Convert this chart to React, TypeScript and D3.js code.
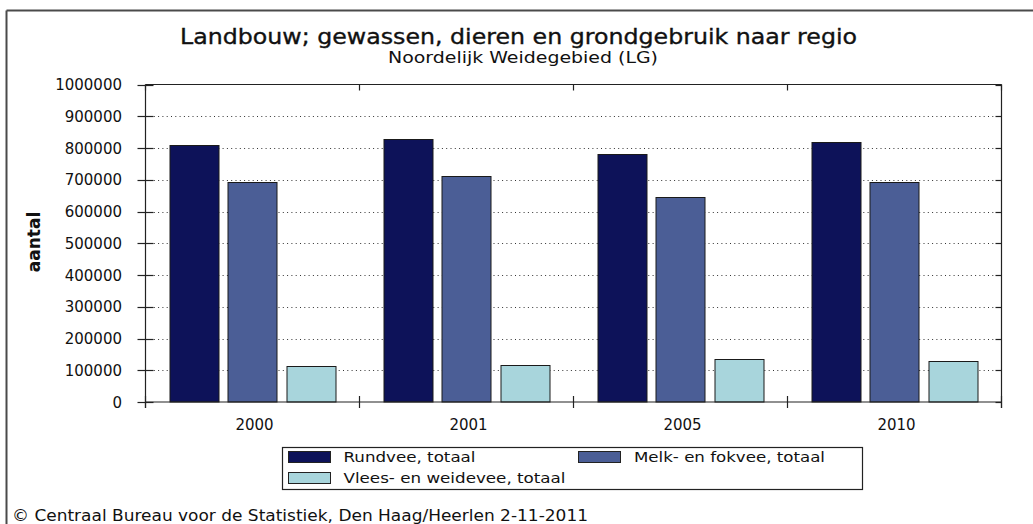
import React from "react";
import * as d3 from "d3";

const categories = ["2000", "2001", "2005", "2010"];
const seriesNames = ["Rundvee, totaal", "Melk- en fokvee, totaal", "Vlees- en weidevee, totaal"];
const rundvee = [810000, 827000, 782000, 818000];
const melkFokvee = [693000, 711000, 646000, 692000];
const vleesWeidevee = [114000, 118000, 137000, 129000];
const yTicks = [0, 100000, 200000, 300000, 400000, 500000, 600000, 700000, 800000, 900000, 1000000];
const colors = ["#0d1259", "#4b5e96", "#a8d5dc"];

const title = "Landbouw; gewassen, dieren en grondgebruik naar regio";
const subtitle = "Noordelijk Weidegebied (LG)";
const yTitle = "aantal";
const footer = "© Centraal Bureau voor de Statistiek, Den Haag/Heerlen 2-11-2011";

const W = 1033;
const H = 524;
const FONT = "'DejaVu Sans', Verdana, sans-serif";

export default function App() {
  const left = 145.5, right = 1001.5, top = 84.5, bottom = 402;
  const x0 = d3.scaleBand<string>().domain(categories).range([left, right]).paddingInner(0).paddingOuter(0);
  const bw = x0.bandwidth();
  const x1 = d3.scaleBand<string>().domain(seriesNames).range([24, bw - 24]).paddingInner(0.16).paddingOuter(0);
  const y = d3.scaleLinear().domain([0, 1000000]).range([bottom, top]);
  const seriesValues = [rundvee, melkFokvee, vleesWeidevee];

  const boundaries = categories.map((c) => x0(c) as number).concat([right]);

  const legendPos = [
    { sx: 288.5, sy: 451.5, tx: 343.5, tl: 132 },
    { sx: 578.5, sy: 451.5, tx: 634, tl: 191 },
    { sx: 288.5, sy: 472.5, tx: 343.5, tl: 222 },
  ];

  return (
    <svg width={W} height={H} style={{ position: "absolute", left: 0, top: 0, background: "#fff" }} fontFamily={FONT}>
      <rect x={0} y={0} width={W} height={H} fill="#fff" />
      {/* outer frame */}
      <line x1={6.5} y1={10.5} x2={W + 5} y2={10.5} stroke="#4a4a4a" strokeWidth={2} />
      <line x1={6.5} y1={10.5} x2={6.5} y2={H + 5} stroke="#4a4a4a" strokeWidth={2} />

      <text x={180} y={43.5} fontSize={21} fill="#111" stroke="#111" strokeWidth={0.35}
        textLength={677} lengthAdjust="spacingAndGlyphs">{title}</text>
      <text x={388} y={63} fontSize={15.5} fill="#111" textLength={270} lengthAdjust="spacingAndGlyphs">{subtitle}</text>

      {/* grid */}
      {yTicks.filter((t) => t > 0 && t < 1000000).map((t) => (
        <line key={"g" + t} x1={left + 4} x2={right - 2} y1={Math.round(y(t)) + 0.5} y2={Math.round(y(t)) + 0.5}
          stroke="#333" strokeWidth={1} strokeDasharray="1 3.3" />
      ))}

      {/* bars */}
      {categories.map((c, ci) => (
        <g key={c} transform={`translate(${x0(c)},0)`}>
          {seriesNames.map((s, si) => {
            const v = seriesValues[si][ci];
            return (
              <rect key={s} x={Math.round(x1(s) as number) + 0.5} y={Math.round(y(v)) + 0.5}
                width={Math.round(x1.bandwidth())} height={bottom - Math.round(y(v)) - 0.5}
                fill={colors[si]} stroke="#1a1a1a" strokeWidth={1} />
            );
          })}
        </g>
      ))}

      {/* plot frame */}
      <line x1={left} x2={right} y1={top} y2={top} stroke="#222" strokeWidth={1.2} />
      <line x1={right} x2={right} y1={top} y2={bottom + 6} stroke="#222" strokeWidth={1.2} />
      <line x1={left} x2={left} y1={top} y2={bottom + 6} stroke="#222" strokeWidth={1.2} />
      <line x1={left} x2={right} y1={bottom} y2={bottom} stroke="#222" strokeWidth={1.2} />

      {/* y ticks */}
      {yTicks.map((t) => (
        <g key={"t" + t}>
          <line x1={left - 8} x2={left + 8} y1={Math.round(y(t)) + 0.5} y2={Math.round(y(t)) + 0.5} stroke="#222" strokeWidth={1.2} />
          <line x1={right - 6} x2={right} y1={Math.round(y(t)) + 0.5} y2={Math.round(y(t)) + 0.5} stroke="#222" strokeWidth={1.2} />
          <text x={122} y={y(t) + 5.5} textAnchor="end" fontSize={15} fill="#111">{t}</text>
        </g>
      ))}

      {/* category boundary ticks */}
      {boundaries.map((b, i) => (
        <g key={"b" + i}>
          <line x1={b} x2={b} y1={top} y2={top + 6} stroke="#222" strokeWidth={1.2} />
          <line x1={b} x2={b} y1={bottom - 6} y2={bottom + 6} stroke="#222" strokeWidth={1.2} />
        </g>
      ))}

      {/* category labels */}
      {categories.map((c) => (
        <text key={"l" + c} x={(x0(c) as number) + bw / 2 + 2} y={430} textAnchor="middle" fontSize={15} fill="#111">{c}</text>
      ))}

      {/* y title */}
      <text transform="translate(40,242) rotate(-90)" textAnchor="middle" fontSize={17} fontWeight="bold" fill="#111">{yTitle}</text>

      {/* legend */}
      <rect x={282.5} y={447.5} width={580} height={42} fill="#fff" stroke="#222" strokeWidth={1.2} />
      {seriesNames.map((s, i) => {
        const p = legendPos[i];
        return (
          <g key={"lg" + s}>
            <rect x={p.sx} y={p.sy} width={42} height={11} fill={colors[i]} stroke="#222" strokeWidth={1} />
            <text x={p.tx} y={p.sy + 10} fontSize={14.5} fill="#111" textLength={p.tl} lengthAdjust="spacingAndGlyphs">{s}</text>
          </g>
        );
      })}

      <text x={12} y={521} fontSize={15} fill="#111" textLength={576} lengthAdjust="spacingAndGlyphs">{footer}</text>
    </svg>
  );
}
